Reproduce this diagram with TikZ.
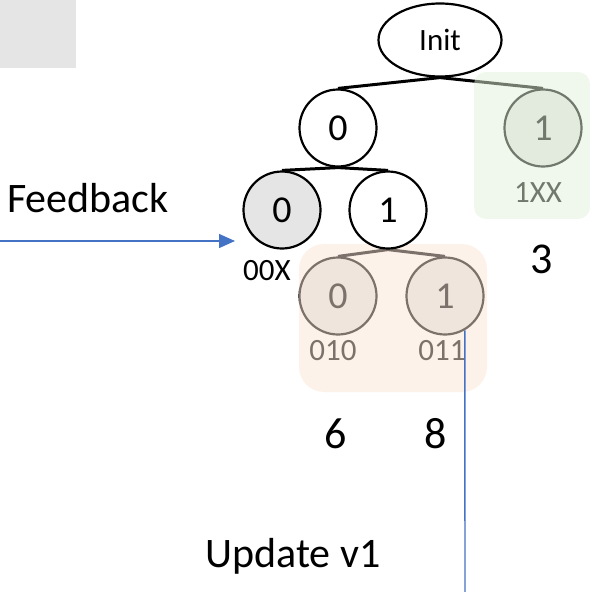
\documentclass[tikz,border=0pt]{standalone}
\usepackage{fontspec}
\setmainfont{Carlito}
\usetikzlibrary{shapes.geometric,arrows.meta}
\definecolor{panelgrey}{HTML}{E5E5E5}
\definecolor{greenwash}{HTML}{E2F0D9}
\definecolor{salmonwash}{HTML}{FBE5D6}
\definecolor{linkblue}{HTML}{4472C4}
\pgfdeclarelayer{wash}
\pgfdeclarelayer{front}
\pgfsetlayers{main,wash,front}
\tikzset{
  treenode/.style={circle, draw, line width=2.2pt, minimum size=77pt, inner sep=0pt,
    fill=white, font=\fontsize{38}{42}\selectfont},
  pruned/.style={treenode, fill=panelgrey},
  rootnode/.style={ellipse, draw, line width=2.2pt, minimum width=123pt, minimum height=73pt,
    inner sep=0pt, fill=white, font=\fontsize{31}{36}\selectfont},
  branch/.style={line width=3pt},
  codelbl/.style={anchor=base, inner sep=0pt, font=\fontsize{31}{35}\selectfont},
  countlbl/.style={anchor=base, inner sep=0pt, font=\fontsize{44}{50}\selectfont},
  caption/.style={anchor=base west, inner sep=0pt, font=\fontsize{42}{48}\selectfont},
  wash/.style={draw=none, opacity=0.5},
  bluelink/.style={draw=linkblue, line width=1.4pt}
}
\begin{document}
\begin{tikzpicture}[x=1pt, y=-1pt]
\useasboundingbox (0,0) rectangle (590,592);

% grey panel in the corner
\fill[panelgrey] (0,0) rectangle (76,68);

% tree nodes
\node[rootnode] (init) at (440,40) {Init};
\node[treenode] (a0) at (338,128) {0};
\node[pruned]   (a1) at (543,128) {1};
\node[pruned]   (b0) at (282,210) {0};
\begin{pgfonlayer}{front}
\node[treenode] (b1) at (388,210) {1};
\end{pgfonlayer}
\node[pruned]   (c0) at (338,296) {0};
\node[pruned]   (c1) at (445,296) {1};

% branches
\draw[branch] (init.south) -- (a0.north);
\draw[branch] (init.south) -- (a1.north);
\draw[branch] (a0.south) -- (b0.north);
\draw[branch] (a0.south) -- (b1.north);
\draw[branch] (b1.south) -- (c0.north);
\draw[branch] (b1.south) -- (c1.north);

% path codes
\node[codelbl] (l00x) at (267,280) {00X};
\node[codelbl] (l1xx) at (538,202) {1XX};
\node[codelbl] (l010) at (333,360) {010};
\node[codelbl] (l011) at (442,360) {011};

% translucent washes over the pruned subtrees
\begin{pgfonlayer}{wash}
\fill[wash, greenwash, rounded corners=12pt] (474,72) rectangle (590,219);
\fill[wash, salmonwash, rounded corners=25pt] (299,244) rectangle (487,392);
\end{pgfonlayer}

% counts
\node[countlbl] (n3) at (542,273) {3};
\node[countlbl] (n6) at (336,448) {6};
\node[countlbl] (n8) at (436,448) {8};

% captions and links
\node[caption] (fb) at (7,212) {Feedback};
\node[caption] (up) at (205,567) {Update v1};
\coordinate (fbstart) at (0,241);
\coordinate (fbend) at (235,241);
\draw[bluelink, -{Triangle[length=16pt, width=14pt]}] (fbstart) -- (fbend);
\coordinate (upfoot) at (465,592);
\begin{pgfonlayer}{front}
\draw[bluelink] (c1.-60) -- (upfoot);
\end{pgfonlayer}
\end{tikzpicture}
\end{document}
